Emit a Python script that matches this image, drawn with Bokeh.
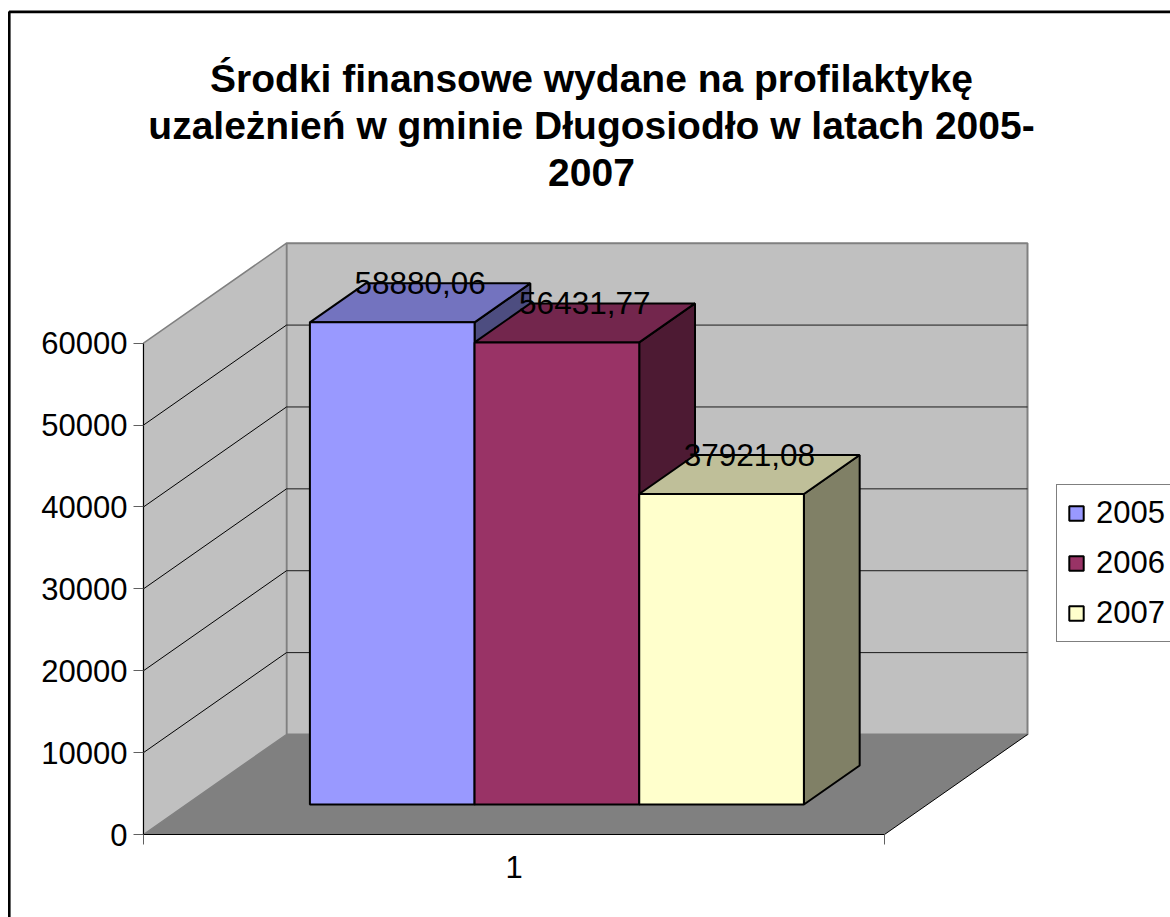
from bokeh.plotting import figure
from bokeh.models import Range1d, LinearAxis, FixedTicker, Legend, LegendItem, ColumnDataSource
from bokeh.core.properties import value
from bokeh.embed import file_html
from bokeh.resources import INLINE

# ---------------- data ----------------
years = ["2005", "2006", "2007"]
amounts = [58880.06, 56431.77, 37921.08]
amount_labels = ["58880,06", "56431,77", "37921,08"]
categories = ["1"]
y_ticks = [0, 10000, 20000, 30000, 40000, 50000, 60000]
title_lines = [
    "Środki finansowe wydane na profilaktykę",
    "uzależnień w gminie Długosiodło w latach 2005-",
    "2007",
]

# ---------------- styles ----------------
front_colors = ["#9999FF", "#993366", "#FFFFCC"]
top_colors = ["#7373BF", "#73264D", "#BFBF99"]
side_colors = ["#4D4D80", "#4D1A33", "#808066"]
FONT = "Liberation Sans"

# ---------------- layout (page pixels) ----------------
W, H = 1170, 917
PAGE = 0
OX, OY = 143.0, 834.0          # front-left corner of floor (value 0)
XS = 884.0 - 143.0             # pixels per category unit
YMAX = max(y_ticks)
YS = (834.0 - 342.7) / YMAX    # pixels per value unit
DXP, DYP = 143.0, 100.0        # full depth oblique offset in pixels
DX = DXP / XS
DY = DYP / YS
Z0, Z1 = 0.30, 0.69            # bar depth fraction
GAP = 1.0 / 6.0
BW = (1.0 - 2 * GAP) / len(years)


def X(px):
    return (px - OX) / XS


def Y(py):
    return (OY - py) / YS


p = figure(width=W, height=H, output_backend="svg", toolbar_location=None,
           x_axis_type=None, y_axis_type=None,
           x_range=Range1d(X(PAGE), X(PAGE + W)),
           y_range=Range1d(Y(PAGE + H), Y(PAGE)),
           min_border=0, min_border_left=0, min_border_right=0,
           min_border_top=0, min_border_bottom=0)
p.outline_line_color = None
p.xgrid.visible = False
p.ygrid.visible = False
p.background_fill_color = "white"
p.border_fill_color = "white"

# outer chart border
p.quad(left=[X(8.8)], right=[X(1300)], top=[Y(11.4)], bottom=[Y(1200)],
       fill_color=None, line_color="black", line_width=2.6)

ncat = len(categories)
# walls
p.patch([DX, ncat + DX, ncat + DX, DX], [DY, DY, YMAX + DY, YMAX + DY],
        fill_color="#C0C0C0", line_color="#808080", line_width=2)
p.patch([0, DX, DX, 0], [0, DY, YMAX + DY, YMAX],
        fill_color="#C0C0C0", line_color="#808080", line_width=1.5)
p.patch([0, ncat, ncat + DX, DX], [0, 0, DY, DY],
        fill_color="#808080", line_color=None)
p.segment(x0=[ncat], y0=[0], x1=[ncat + DX], y1=[DY], line_color="black", line_width=1)

# gridlines
inner = y_ticks[1:-1]
p.multi_line(xs=[[DX, ncat + DX] for v in inner], ys=[[v + DY, v + DY] for v in inner],
             line_color="#1A1A1A", line_width=1)
p.multi_line(xs=[[0, DX] for v in inner], ys=[[v, v + DY] for v in inner],
             line_color="black", line_width=1)

# bars
fx, fy, tx, ty, sx, sy = [], [], [], [], [], []
lx, ly = [], []
for i, v in enumerate(amounts):
    x0 = GAP + i * BW
    x1 = x0 + BW
    a0, b0 = Z0 * DX, Z0 * DY
    a1, b1 = Z1 * DX, Z1 * DY
    fx.append([x0 + a0, x1 + a0, x1 + a0, x0 + a0])
    fy.append([b0, b0, v + b0, v + b0])
    tx.append([x0 + a0, x1 + a0, x1 + a1, x0 + a1])
    ty.append([v + b0, v + b0, v + b1, v + b1])
    sx.append([x1 + a0, x1 + a1, x1 + a1, x1 + a0])
    sy.append([b0, b1, v + b1, v + b0])
    lx.append((x0 + x1) / 2 + (a0 + a1) / 2)
    ly.append(v + b1)

p.patches(xs=sx, ys=sy, fill_color=side_colors, line_color="black", line_width=2)
p.patches(xs=tx, ys=ty, fill_color=top_colors, line_color="black", line_width=2)
front_src = ColumnDataSource(dict(xs=fx, ys=fy, color=front_colors, year=years))
front_r = p.patches(xs="xs", ys="ys", source=front_src, fill_color="color",
                    line_color="black", line_width=2)

p.text(x=lx, y=ly, text=amount_labels, text_align="center", text_baseline="middle",
       text_font=value(FONT), text_font_size="31.5px", text_color="black")

# title
title_baselines = [78, 125, 172]
p.text(x=[X(591)] * len(title_lines), y=[Y(b) for b in title_baselines], text=title_lines,
       text_align="center", text_baseline="alphabetic", text_font=value(FONT),
       text_font_size="39px", text_font_style="bold", text_color="black")

# axes
yaxis = LinearAxis(fixed_location=0, bounds=(0, YMAX), ticker=FixedTicker(ticks=y_ticks))
yaxis.axis_line_color = "black"
yaxis.axis_line_width = 1
yaxis.major_tick_out = 10
yaxis.major_tick_in = 0
yaxis.major_tick_line_color = "#606060"
yaxis.minor_tick_line_color = None
yaxis.major_label_standoff = 6
yaxis.major_label_text_font = FONT
yaxis.major_label_text_font_size = "31px"
yaxis.major_label_text_color = "black"
p.add_layout(yaxis, "left")

xaxis = LinearAxis(fixed_location=0, bounds=(0, ncat),
                   ticker=FixedTicker(ticks=list(range(ncat + 1))))
xaxis.major_label_overrides = {k: "" for k in range(ncat + 1)}
xaxis.axis_line_color = "black"
xaxis.major_tick_out = 10
xaxis.major_tick_in = 0
xaxis.major_tick_line_color = "#606060"
xaxis.minor_tick_line_color = None
p.add_layout(xaxis, "below")

centers = [k + 0.5 for k in range(ncat)]
xlab = LinearAxis(fixed_location=0, ticker=FixedTicker(ticks=centers))
xlab.major_label_overrides = {c: t for c, t in zip(centers, categories)}
xlab.axis_line_color = None
xlab.major_tick_line_color = None
xlab.minor_tick_line_color = None
xlab.major_tick_out = 0
xlab.major_label_standoff = 21
xlab.major_label_text_font = FONT
xlab.major_label_text_font_size = "31px"
xlab.major_label_text_color = "black"
p.add_layout(xlab, "below")

# legend
legend = Legend(items=[LegendItem(label=y, renderers=[front_r], index=i) for i, y in enumerate(years)],
                location=(1056 - PAGE, PAGE + H - 642))
legend.label_text_font = FONT
legend.label_text_font_size = "31px"
legend.label_text_color = "black"
legend.glyph_width = 18
legend.glyph_height = 18
legend.label_height = 34
legend.label_width = 100
legend.spacing = 14
legend.padding = 10
legend.margin = 0
legend.label_standoff = 11
legend.border_line_color = "black"
legend.border_line_width = 1
legend.background_fill_color = "white"
legend.background_fill_alpha = 1
p.add_layout(legend)

open("out.html", "w").write(file_html(p, INLINE))
